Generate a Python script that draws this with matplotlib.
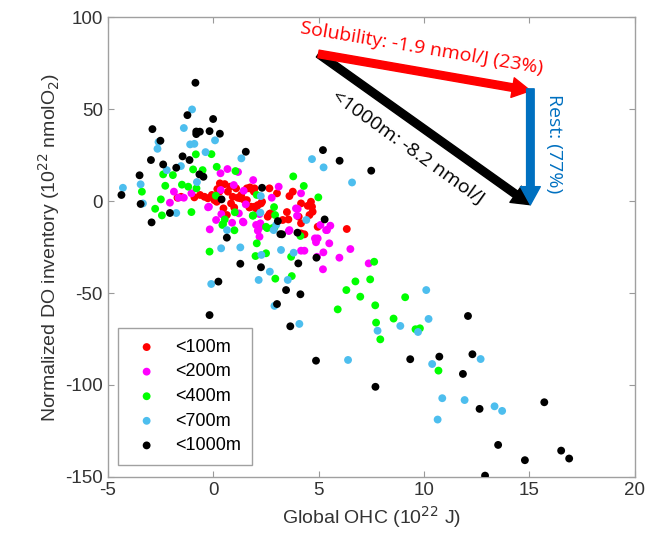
import matplotlib
matplotlib.use("Agg")
import matplotlib.pyplot as plt
import numpy as np

# ---------------- data ----------------
red_x = [-1.69, -1.52, -0.89, -0.62, -0.41, -0.06, 0.06, 0.30, 0.32, 0.55, 0.81, 0.70, 0.93, 1.09, 1.17,
         1.33, 1.48, 1.60, 1.75, 1.93, 0.85, 1.29, 1.60, 1.96, 2.32, 2.67, 1.00, 0.17, 0.49, 0.65,
         2.72, 1.80, 2.04, 2.27, 3.03, 3.62, 3.78, 4.17, 4.49, 4.64, 4.72, 3.30, 3.57, 4.06, 4.17,
         4.57, 4.69, 4.96, 6.34, 2.67, 4.17, 4.33, 2.12, 1.72, -0.25, 0.20, 1.96, 2.59, 1.72, 3.50]
red_y = [1.8, 2.3, 2.0, 3.3, 2.3, 3.3, 0.5, 5.1, 9.6, 9.2, 7.8, 5.1, 2.3, 6.9, 1.8,
         3.3, 0.5, 6.9, 7.4, 5.1, -1.3, 1.5, 0.5, -3.1, -0.4, 6.9, -3.5, -0.4, -4.0, -7.6,
         -6.7, -3.1, -4.0, -1.3, 4.2, 2.7, 5.1, -1.3, -2.6, -0.4, -5.8, -10.3, -10.0, -8.5, -12.1,
         -7.6, -3.1, -14.0, -15.2, -7.1, -17.6, -18.1, -2.2, 6.9, 1.5, 6.5, 6.9, -8.5, -3.5, -6.0]

mag_x = [0.68, 0.35, 1.18, 1.90, 3.11, -1.86, -1.64, -1.39, -1.03, -2.05, -0.20, 0.36, 1.55, 2.78, 0.14,
         0.90, 1.44, -0.16, 2.18, 2.12, 0.39, 0.98, 1.45, 4.17, 4.01, 1.22, 2.20, 3.98, 2.24, 5.09,
         5.56, 5.40, 3.62, 2.20, 4.83, 1.41, 3.93, 3.59, 5.36, 4.96, 4.88, 5.51, 4.17, 4.33, 5.23,
         4.93, 5.99, 6.51, 5.21, 7.38, -0.24, 2.04, 2.20]
mag_y = [17.4, 15.1, 15.8, 11.4, 7.8, 5.1, 1.8, 1.8, 4.2, -0.9, -3.1, 6.0, -1.8, 1.8, -10.3,
         -11.8, -11.6, -15.4, -13.4, -16.1, -7.1, 8.7, 5.6, 4.2, -4.3, -6.7, -7.1, -8.0, -12.1, -13.0,
         -13.4, -15.8, -15.8, -19.4, -20.3, -11.2, -4.0, -16.3, -15.8, -20.3, -22.4, -23.0, -27.0, -27.0, -27.9,
         -30.3, -30.8, -26.1, -37.1, -33.9, -3.4, -13.0, -14.3]

grn_x = [-0.82, -0.08, -2.37, -1.91, -0.95, -0.50, 0.17, 1.06, -2.27, -1.48, -1.18, -0.79, -3.38, -2.48, 0.13,
         -2.75, -2.43, -1.03, 1.03, 2.07, 1.90, 0.55, 0.47, 1.01, 2.56, 2.89, 3.80, 4.30, 4.99, 1.88,
         2.94, 2.51, 2.80, -0.17, 0.44, 2.07, 2.01, 2.51, 2.95, 2.91, 3.73, 3.70, 5.91, 6.32, 6.75,
         6.98, 7.45, 7.64, 7.69, 7.73, 7.93, 8.56, 9.11, 9.60, 9.81, 4.14, 10.69]
grn_y = [25.4, 25.5, 14.5, 14.1, 17.2, 16.8, 18.6, 16.3, 8.3, 8.9, 7.8, 6.9, 5.1, 0.9, 2.9,
         -4.2, -7.8, -6.0, -6.1, 3.3, -7.8, -10.0, -12.5, -15.9, -14.7, -3.3, 13.4, 8.2, 2.0, -8.0,
         -7.6, -14.0, -14.8, -27.5, -13.0, -23.0, -29.9, -28.4, -42.2, -14.3, -40.8, -30.3, -58.9, -48.4, -43.7,
         -52.0, -42.6, -33.0, -56.7, -66.1, -75.2, -63.9, -52.3, -69.7, -69.2, -19.0, -92.2]

blu_x = [-1.00, -1.39, -2.59, -2.64, -1.09, -0.89, -0.36, 0.09, 1.34, -2.20, -3.44, -4.28, -1.53, -0.77, -3.33,
         -1.75, 2.26, 0.66, 2.87, 4.69, 5.24, 6.59, 2.24, 4.42, 2.99, -0.09, 0.38, 1.29, 2.29, 2.69,
         2.16, 2.91, 3.22, 3.82, 3.54, 4.09, 7.80, 8.88, 9.72, 10.11, 10.22, 6.40, 10.39, 12.69, 10.87,
         11.93, 13.35, 13.71, 10.65]
blu_y = [49.8, 39.7, 32.1, 28.4, 30.8, 31.1, 26.6, 33.0, 23.2, 16.8, 9.1, 7.2, 19.0, 10.3, -1.3,
         -6.5, 2.7, -15.8, -15.8, 22.8, 18.3, 10.1, -6.3, -10.3, -13.0, -45.1, -25.7, -25.2, -29.3, -38.4,
         -42.9, -57.0, -26.6, -28.1, -42.9, -66.8, -70.5, -67.9, -71.2, -48.4, -64.1, -86.4, -88.6, -85.9, -107.2,
         -108.2, -111.6, -114.1, -118.8]

blk_x = [-0.84, -1.22, 0.00, -2.88, -0.80, -0.63, -0.80, -0.17, 0.32, -2.50, 1.55, -2.95, -1.45, -1.12, -2.37,
         -1.75, -0.65, -0.46, -3.49, -4.35, -3.44, 0.40, 2.32, -2.05, -2.92, 3.07, 0.65, 5.21, 6.00, 7.50,
         5.29, 3.27, 4.00, 1.29, 2.27, 0.25, -0.17, 3.03, 3.19, 4.90, 4.04, 3.46, 4.14, 3.66, 9.35,
         10.73, 4.88, 12.09, 12.30, 11.85, 12.64, 15.71, 13.52, 14.79, 16.51, 16.89, 12.90, 7.70]
blk_y = [64.3, 46.7, 44.6, 39.1, 37.8, 37.7, 36.4, 38.0, 36.6, 32.8, 26.8, 22.3, 24.3, 22.3, 19.9,
         18.1, 14.5, 13.2, 14.0, 3.3, -1.6, 0.9, 7.2, -6.5, -11.6, -10.9, -19.9, 27.7, 21.9, 16.5,
         -10.0, -18.1, -17.2, -34.1, -36.0, -43.8, -62.0, -56.0, -18.0, -30.8, -33.9, -48.4, -50.7, -68.1, -86.0,
         -84.6, -86.8, -62.5, -83.3, -94.0, -113.0, -109.4, -132.6, -140.9, -135.7, -140.0, -149.3, -101.0]

labels = ["<100m", "<200m", "<400m", "<700m", "<1000m"]
colors = ["#ff0000", "#ff00ff", "#00ff00", "#4dbeee", "#000000"]

xticks = [-5, 0, 5, 10, 15, 20]
yticks = [-150, -100, -50, 0, 50, 100]

# arrows (x, y) in data units
arrow_start = (5.0, 80.0)
arrow_total_end = (15.05, -2.0)
arrow_sol_end = (15.05, 60.0)

# ---------------- figure ----------------
plt.rcParams['font.family'] = ['Liberation Sans', 'DejaVu Sans']
plt.rcParams['axes.unicode_minus'] = False
fig = plt.figure(figsize=(6.49, 5.52), dpi=100)
ax = fig.add_axes([0.166, 0.136, 0.812, 0.833])

series = [(red_x, red_y), (mag_x, mag_y), (grn_x, grn_y), (blu_x, blu_y), (blk_x, blk_y)]
for (xs, ys), c, lab in zip(series, colors, labels):
    ax.scatter(xs, ys, s=32, color=c, edgecolors='none', label=lab, zorder=3)

ax.set_xlim(-5, 20)
ax.set_ylim(-150, 100)
ax.set_xticks(xticks)
ax.set_yticks(yticks)
ax.tick_params(direction='in', length=4, width=0.8, colors='#9a9a9a',
               labelcolor='#333333', labelsize=13.5, top=True, right=True)
for sp in ax.spines.values():
    sp.set_color('#a0a0a0')
    sp.set_linewidth(1.0)

ax.set_xlabel(r"Global OHC (10$^{22}$ J)", fontsize=14, color='#333333', labelpad=4)
ax.set_ylabel(r"Normalized DO inventory (10$^{22}$ nmolO$_2$)", fontsize=14, color='#333333', labelpad=2)

leg = ax.legend(loc='lower left', bbox_to_anchor=(0.019, 0.026), borderaxespad=0.0, fontsize=13,
                frameon=True, fancybox=False, edgecolor='#8a8a8a', handletextpad=0.6, borderpad=0.6,
                labelspacing=0.42, markerscale=1.0, scatterpoints=1)
leg.get_frame().set_linewidth(1.0)

def arrow(start, end, color):
    ax.annotate('', xy=end, xytext=start,
                arrowprops=dict(arrowstyle='simple,head_length=1.0,head_width=1.1,tail_width=0.42',
                                color=color, shrinkA=0, shrinkB=0, mutation_scale=13),
                zorder=5)

arrow(arrow_start, arrow_total_end, '#000000')
arrow(arrow_start, arrow_sol_end, '#ff0000')
arrow((15.05, 61.0), (15.05, -2.0), '#0070c0')

ax.text(9.9, 83.0, "Solubility: -1.9 nmol/J (23%)", color='#ff0000', fontsize=14,
        family=['Open Sans', 'DejaVu Sans'], rotation=-9.5, ha='center', va='center', zorder=6)
ax.text(16.15, 31, "Rest: (77%)", color='#0070c0', fontsize=14,
        family=['Open Sans', 'DejaVu Sans'], rotation=-90, ha='center', va='center', zorder=6)
ax.text(9.25, 29, "<1000m: -8.2 nmol/J", color='#000000', fontsize=14,
        family=['Open Sans', 'DejaVu Sans'], rotation=-35.6, ha='center', va='center', zorder=6)

fig.savefig("out.png", dpi=100)
